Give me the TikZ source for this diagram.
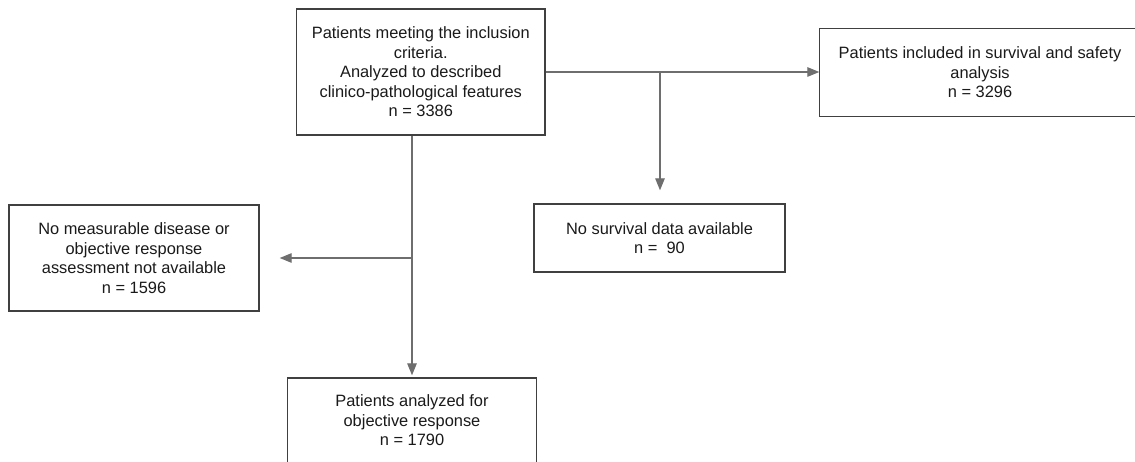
\documentclass[tikz,border=0pt]{standalone}
\usepackage{fontspec}
\setmainfont{Liberation Sans}
\usetikzlibrary{arrows.meta}
\definecolor{boxline}{HTML}{404040}
\definecolor{conline}{HTML}{6E6E6E}
\definecolor{txt}{HTML}{1A1A1A}
\tikzset{
  flowbox/.style={draw=boxline, line width=1.4pt, fill=white, rectangle, inner sep=0pt,
    align=center, text=txt, font=\fontsize{16.4}{19.5}\selectfont},
  conn/.style={draw=conline, line width=1.3pt},
  arr/.style={conn, -{Triangle[length=12pt,width=9.5pt]}}
}
\begin{document}
\begin{tikzpicture}[x=1pt,y=-1pt]
\useasboundingbox (0,0) rectangle (1135,462);
\fill[white] (0,0) rectangle (1135,462);

\node[flowbox, minimum width=248.5pt, minimum height=126pt] (top) at (420.75,72)
  {Patients meeting the inclusion\\criteria.\\Analyzed to described\\clinico-pathological features\\n = 3386};
\node[flowbox, draw=none, minimum width=320pt, minimum height=87pt] (right) at (980,72.5)
  {Patients included in survival and safety\\analysis\\n = 3296};
\draw[draw=boxline, line width=1.4pt] (right.north west) rectangle ([xshift=40pt]right.south east);
\node[flowbox, minimum width=251pt, minimum height=68pt] (mid) at (659.5,238)
  {No survival data available\\n = \ 90};
\node[flowbox, minimum width=250pt, minimum height=106pt] (left) at (134,258)
  {No measurable disease or\\objective response\\assessment not available\\n = 1596};
\node[flowbox, minimum width=249pt, minimum height=85pt] (bot) at (412,420.5)
  {Patients analyzed for\\objective response\\n = 1790};

\coordinate (b2) at (660,72);
\coordinate (b1) at (412,258);

\draw[arr] (top.east) -- (right.west |- top.east);
\draw[arr, shorten >=13pt] (b2) -- (b2 |- mid.north);
\draw[arr, shorten >=2pt] (top.south -| bot.north) -- (bot.north);
\draw[arr, shorten >=20pt] (b1) -- (left.east |- b1);
\end{tikzpicture}
\end{document}
